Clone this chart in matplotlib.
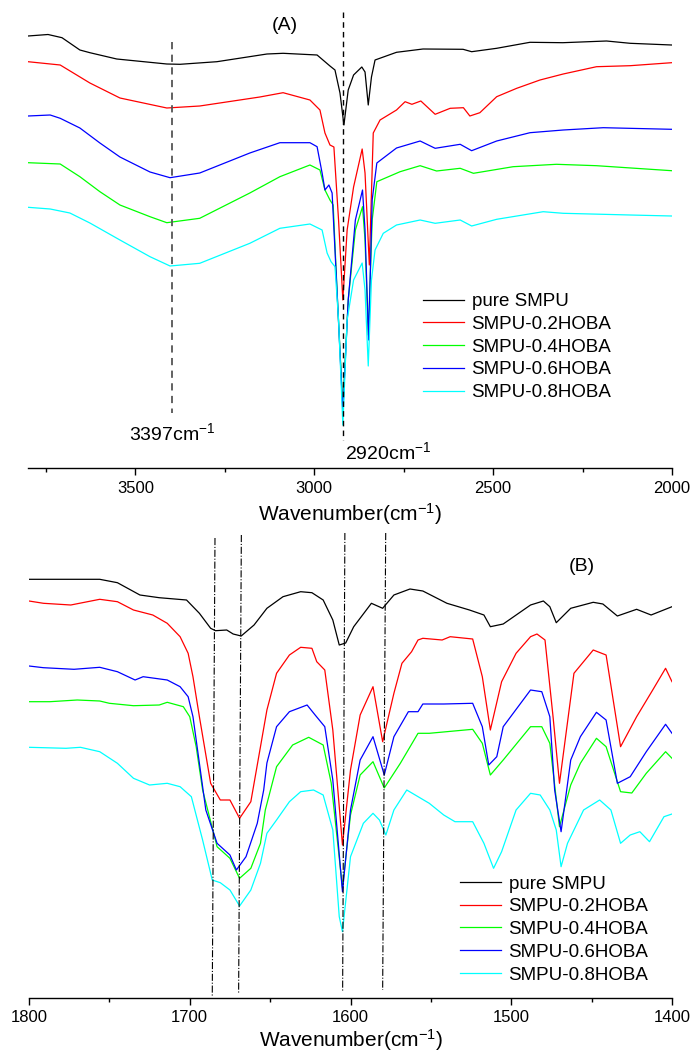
import numpy as np
import matplotlib.pyplot as plt
from matplotlib.ticker import MultipleLocator

plt.rcParams['font.family'] = ['Liberation Sans', 'DejaVu Sans']
plt.rcParams['mathtext.fontset'] = 'custom'
plt.rcParams['mathtext.rm'] = 'Liberation Sans'
plt.rcParams['mathtext.it'] = 'Liberation Sans'
plt.rcParams['mathtext.default'] = 'regular'

labels = ['pure SMPU', 'SMPU-0.2HOBA', 'SMPU-0.4HOBA', 'SMPU-0.6HOBA', 'SMPU-0.8HOBA']
colors = ['black', '#ff0000', '#00ff00', '#0000ff', '#00ffff']

# ---- panel A: 3800-2000 cm-1, offset intensity (a.u., axis downward) ----
wA_pure = [3800, 3744, 3705, 3655, 3627, 3552, 3412, 3375, 3272, 3132, 3087, 2992, 2956, 2942, 2928,
           2917, 2905, 2890, 2867, 2858, 2849, 2840, 2830, 2770, 2696, 2584, 2560, 2490, 2397, 2305,
           2183, 2117, 2001]
yA_pure = [36, 34.5, 37.7, 50, 52.7, 59, 64, 64.3, 61.7, 54, 53.3, 55, 66, 70, 93,
           125, 90, 75, 67, 72, 105, 77, 60, 52.3, 49, 49.3, 51.7, 48.3, 42.3, 42.7,
           41, 43.3, 45]
wA_02 = [3800, 3710, 3627, 3543, 3412, 3320, 3152, 3087, 3012, 2984, 2970, 2956, 2945, 2932, 2920,
         2908, 2890, 2866, 2858, 2846, 2835, 2816, 2770, 2746, 2727, 2702, 2662, 2620, 2583, 2565,
         2537, 2490, 2434, 2369, 2304, 2211, 2117, 2001]
yA_02 = [61.7, 65, 83, 98, 108, 106, 97, 92.7, 100, 110, 133, 145, 147, 220, 300,
         230, 187, 149, 173, 265, 133, 120, 110, 101.7, 104.3, 101, 114.3, 108.3, 107.7, 116,
         112.7, 96.7, 88.3, 80, 74, 66.7, 65.7, 62.7]
wA_04 = [3800, 3710, 3655, 3599, 3543, 3459, 3412, 3320, 3180, 3096, 3012, 2984, 2970, 2956, 2947,
         2935, 2920, 2905, 2885, 2865, 2858, 2849, 2838, 2825, 2760, 2704, 2658, 2592, 2555, 2444,
         2323, 2211, 2001]
yA_04 = [162.7, 164, 176.7, 191.7, 205, 216.7, 222.7, 218.3, 193, 176.7, 165, 170, 190, 200, 205,
         300, 407, 300, 230, 206.7, 240, 335, 220, 181.7, 171.7, 165.7, 171, 168.3, 173.3, 166.7,
         164.3, 165.7, 170.7]
wA_06 = [3800, 3738, 3710, 3655, 3599, 3543, 3459, 3403, 3320, 3180, 3096, 3012, 2992, 2978, 2970,
         2959, 2950, 2935, 2920, 2905, 2885, 2865, 2858, 2848, 2838, 2825, 2770, 2704, 2662, 2592,
         2560, 2490, 2397, 2304, 2192, 2001]
yA_06 = [116, 115, 118.3, 128, 143, 157, 172, 177.7, 173, 153, 142.7, 142.7, 146.7, 173, 190,
         185, 193, 300, 412, 300, 220, 190, 230, 340, 200, 163, 148, 141, 148.3, 144.3,
         150.7, 141, 132.7, 130, 127.7, 129.3]
wA_08 = [3800, 3738, 3683, 3627, 3543, 3459, 3403, 3320, 3180, 3096, 3012, 2978, 2964, 2953, 2942,
         2932, 2920, 2908, 2890, 2866, 2858, 2849, 2840, 2830, 2807, 2770, 2704, 2662, 2592, 2560,
         2490, 2360, 2304, 2117, 2001]
yA_08 = [207.3, 209, 213, 223, 240, 256.7, 266, 263.3, 243.3, 228.3, 224, 230, 253, 261.7, 266.7,
         320, 425, 320, 280, 263, 290, 366, 280, 250, 233.3, 225, 220, 223.3, 220, 226,
         219.3, 211.7, 213.3, 215, 216]

# ---- panel B: 1800-1400 cm-1 ----
wB_pure = [1800, 1756, 1745, 1731, 1719, 1702, 1694, 1687, 1684, 1677, 1673, 1668, 1660, 1652, 1642,
           1631, 1624, 1617, 1611, 1607, 1603, 1598, 1587, 1580, 1573, 1563, 1555, 1540, 1526, 1517,
           1513, 1505, 1488, 1480, 1476, 1472, 1463, 1449, 1443, 1434, 1422, 1413, 1400]
yB_pure = [579.3, 579.3, 582.7, 595, 597.7, 600, 613.3, 628.3, 630.7, 630, 634, 636, 625, 608.3, 596.7,
           591.7, 592.7, 600, 620, 645, 643, 626.7, 603.3, 608.3, 595, 589, 591, 603.3, 610, 615,
           626.7, 624, 605, 601, 606.7, 622.7, 608.3, 602.3, 604, 616, 609.3, 615, 606.7]
wB_02 = [1800, 1791, 1774, 1756, 1745, 1735, 1723, 1714, 1706, 1701, 1698, 1694, 1687, 1681, 1675,
         1669, 1662, 1652, 1646, 1638, 1631, 1624, 1621, 1616, 1611, 1605, 1600, 1594, 1586, 1580,
         1573, 1568, 1562, 1558, 1555, 1543, 1538, 1524, 1518, 1513, 1506, 1497, 1488, 1484, 1479,
         1474, 1470, 1461, 1449, 1441, 1432, 1422, 1412, 1404, 1400]
yB_02 = [601, 603.3, 605, 599.3, 601.7, 610, 615, 623.3, 636.7, 653.3, 676.7, 716.7, 783.3, 800, 800,
         818.3, 801.7, 710, 673.3, 655, 647.3, 648.3, 661.7, 670, 730, 845, 770, 715, 686.7, 741.7,
         693.3, 663.3, 651.7, 640, 638.3, 640, 636.7, 639, 676.7, 730, 681.7, 653.3, 636.7, 634, 640,
         716.7, 783.3, 673.3, 650, 655, 746.7, 716.7, 690, 668.3, 681.7]
wB_04 = [1800, 1787, 1770, 1756, 1750, 1735, 1719, 1714, 1704, 1700, 1696, 1692, 1683, 1675, 1669,
         1662, 1656, 1653, 1646, 1636, 1626, 1617, 1612, 1605, 1600, 1594, 1586, 1579, 1569, 1558,
         1551, 1524, 1518, 1513, 1505, 1488, 1481, 1476, 1470, 1463, 1457, 1447, 1441, 1432, 1425,
         1416, 1404, 1400]
yB_04 = [701.7, 701.7, 700, 701, 703.3, 705.7, 705, 702.3, 706.7, 716.7, 746.7, 790, 846.7, 858.3, 878.3,
         868.3, 843.3, 810, 766.7, 745, 737.3, 745, 783, 888, 815, 775, 761.7, 788, 763.3, 733.3,
         733.3, 729.3, 743.3, 775, 760, 726.7, 726.7, 743.3, 826.7, 785, 763.3, 738.3, 746.7, 791.7, 793,
         773.3, 751.7, 758.3]
wB_06 = [1800, 1791, 1772, 1756, 1745, 1734, 1729, 1714, 1706, 1701, 1698, 1694, 1690, 1683, 1675,
         1671, 1665, 1658, 1654, 1652, 1646, 1638, 1627, 1622, 1616, 1611, 1605, 1600, 1594, 1586,
         1579, 1573, 1564, 1558, 1555, 1542, 1524, 1518, 1514, 1509, 1505, 1488, 1481, 1476, 1473,
         1469, 1463, 1457, 1447, 1441, 1434, 1426, 1416, 1404, 1400]
yB_06 = [666, 667.7, 669.3, 667.3, 671.7, 680, 676.7, 680, 686.7, 696.7, 716.7, 763.3, 810, 843.3, 855,
         870, 856.7, 823.3, 790, 763, 726.7, 711.7, 705, 715, 726.7, 780, 891.7, 810, 760, 736.7,
         775, 736.7, 711.7, 711.7, 704, 704, 703.3, 726.7, 765, 756.7, 726.7, 690, 691.7, 716.7, 790,
         831.7, 760, 736.7, 712.3, 720, 783.3, 776.7, 751.7, 724.3, 733.3]
wB_08 = [1800, 1777, 1768, 1756, 1745, 1735, 1725, 1714, 1706, 1699, 1692, 1686, 1681, 1675, 1669,
         1662, 1656, 1652, 1646, 1638, 1631, 1623, 1617, 1611, 1607, 1605, 1600, 1592, 1586, 1582,
         1578, 1573, 1565, 1551, 1542, 1535, 1524, 1517, 1511, 1506, 1497, 1488, 1482, 1476, 1472,
         1469, 1465, 1455, 1445, 1438, 1432, 1426, 1420, 1414, 1405, 1400]
yB_08 = [747.3, 748.3, 747.3, 751.7, 763.3, 778.3, 785, 783.3, 786.7, 796.7, 840, 880, 882.7, 890, 906,
         890, 863.3, 833.3, 820, 801.7, 791.7, 790, 795, 830, 916.7, 931.7, 856.7, 823.3, 813.3, 820,
         835, 810, 790, 803.3, 815, 821.7, 821.7, 843.3, 868.3, 851.7, 810, 793.3, 795, 810, 830,
         866.7, 843.3, 810, 800, 810, 843.3, 835, 831.7, 841.7, 816.7, 814]

# marker lines in panel B (slightly slanted): top / bottom wavenumber
markB_top = [1684.3, 1667.9, 1603.5, 1578.1]
markB_bot = [1686.0, 1669.6, 1604.9, 1580.0]
markB_ytop = [538, 535, 533, 533]
markB_ybot = [997, 993, 992, 990]

W, H = 695, 1054
fig = plt.figure(figsize=(W / 100, H / 100), dpi=100)
ax1 = fig.add_axes([28 / W, 1 - 468 / H, 644 / W, 458 / H])
ax2 = fig.add_axes([29 / W, 1 - 998 / H, 643 / W, 468 / H])

seriesA = [(wA_pure, yA_pure), (wA_02, yA_02), (wA_04, yA_04), (wA_06, yA_06), (wA_08, yA_08)]
seriesB = [(wB_pure, yB_pure), (wB_02, yB_02), (wB_04, yB_04), (wB_06, yB_06), (wB_08, yB_08)]

for ax, series in ((ax1, seriesA), (ax2, seriesB)):
    for (w, y), c, lab in zip(series, colors, labels):
        ax.plot(w, y, color=c, lw=0.9, label=lab)

# panel A decorations
ax1.plot([3397, 3397], [42, 413], ls=(0, (4, 3)), color='#555555', lw=1.3)
ax1.plot([2920, 2920], [12, 440], ls=(0, (4, 3)), color='black', lw=1.0)
ax1.text(3397, 433, '3397cm$^{-1}$', fontsize=14, ha='center', va='center')
ax1.text(2914, 452, '2920cm$^{-1}$', fontsize=14, ha='left', va='center')
ax1.text(3082, 25, '(A)', fontsize=14, ha='center', va='center')
ax1.set_xlim(3800, 2000)
ax1.set_ylim(468, 10)
ax1.xaxis.set_major_locator(MultipleLocator(500))
ax1.xaxis.set_minor_locator(MultipleLocator(250))

# panel B decorations
for t, b, yt, yb in zip(markB_top, markB_bot, markB_ytop, markB_ybot):
    ax2.plot([t, b], [yt, yb], ls='-.', color='black', lw=0.8)
ax2.text(1456, 567, '(B)', fontsize=14, ha='center', va='center')
ax2.set_xlim(1800, 1400)
ax2.set_ylim(998, 530)
ax2.xaxis.set_major_locator(MultipleLocator(100))
ax2.xaxis.set_minor_locator(MultipleLocator(50))

for ax, pad in ((ax1, 4), (ax2, 1)):
    for s in ('top', 'left', 'right'):
        ax.spines[s].set_visible(False)
    ax.spines['bottom'].set_linewidth(1.0)
    ax.set_yticks([])
    ax.tick_params(axis='x', which='major', direction='out', length=5, width=1, labelsize=12, pad=4)
    ax.tick_params(axis='x', which='minor', direction='out', length=3, width=1)
    ax.set_xlabel('Wavenumber(cm$^{-1}$)', fontsize=15, labelpad=pad)
    ax.patch.set_alpha(0)

ax1.legend(loc='upper left', bbox_to_anchor=(0.613, 0.382), frameon=False, fontsize=13.5,
           handlelength=2.2, handletextpad=0.4, labelspacing=0.3, borderpad=0, borderaxespad=0)
ax2.legend(loc='upper left', bbox_to_anchor=(0.670, 0.262), frameon=False, fontsize=13.5,
           handlelength=2.2, handletextpad=0.4, labelspacing=0.3, borderpad=0, borderaxespad=0)

fig.savefig('out.png', dpi=100)
